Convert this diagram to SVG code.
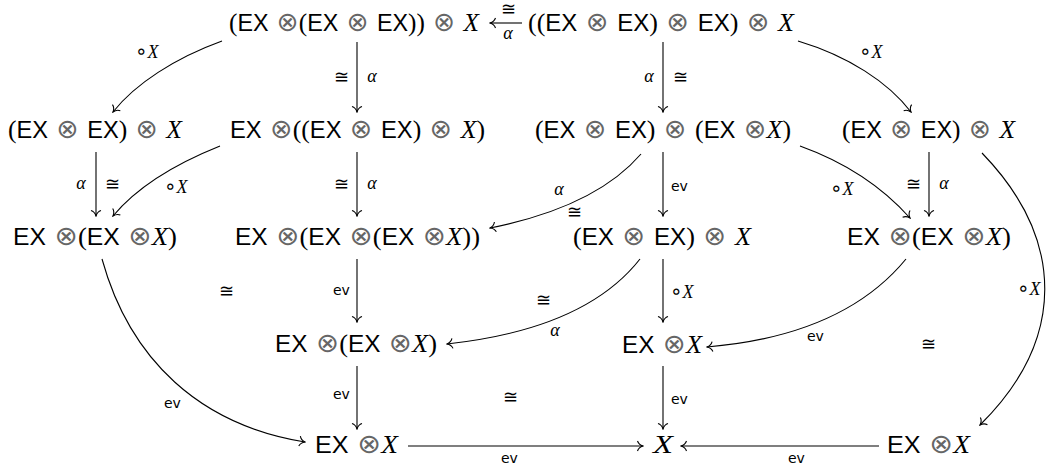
<svg xmlns="http://www.w3.org/2000/svg" width="1047" height="468" viewBox="0 0 1047 468">
<style>
.nd{font-family:"Liberation Serif",serif;font-size:26px;fill:#000}
.sf{font-family:"Liberation Sans",sans-serif;font-size:24px}
.it{font-family:"Liberation Serif",serif;font-style:italic;font-size:26px}
.op{font-family:"DejaVu Sans",sans-serif;font-size:27px;fill:#666}
.ar{fill:none;stroke:#000;stroke-width:1.1;marker-end:url(#ah)}
.ev{font-family:"DejaVu Sans",sans-serif;font-size:14px;fill:#000}
.al{font-family:"Liberation Serif",serif;font-style:italic;font-size:18px;fill:#000}
.iso{font-family:"DejaVu Serif",serif;font-size:18px;fill:#000}
.cx{font-family:"Liberation Serif",serif;font-style:italic;font-size:18px;fill:#000}
.ring{font-family:"DejaVu Sans",sans-serif;font-style:normal;font-size:20px}
</style>
<defs>
<marker id="ah" viewBox="-7 -6 8 12" markerWidth="8" markerHeight="12" refX="0" refY="0" orient="auto" markerUnits="userSpaceOnUse">
<path d="M-5.5,-5 C-4.5,-2 -2,-0.6 0,0 C-2,0.6 -4.5,2 -5.5,5" fill="none" stroke="#000" stroke-width="1.1"/>
</marker>
</defs>

<g id="N1"><text class="nd" x="229" y="31" textLength="250" lengthAdjust="spacingAndGlyphs">(<tspan class="sf">EX</tspan><tspan class="op"> ⊗</tspan>(<tspan class="sf">EX</tspan><tspan class="op"> ⊗ </tspan><tspan class="sf">EX</tspan>))<tspan class="op"> ⊗ </tspan><tspan class="it">X</tspan></text></g>
<g id="N2"><text class="nd" x="528" y="31" textLength="266" lengthAdjust="spacingAndGlyphs">((<tspan class="sf">EX</tspan><tspan class="op"> ⊗ </tspan><tspan class="sf">EX</tspan>)<tspan class="op"> ⊗ </tspan><tspan class="sf">EX</tspan>)<tspan class="op"> ⊗ </tspan><tspan class="it">X</tspan></text></g>
<g id="N3"><text class="nd" x="8" y="138" textLength="174" lengthAdjust="spacingAndGlyphs">(<tspan class="sf">EX</tspan><tspan class="op"> ⊗ </tspan><tspan class="sf">EX</tspan>)<tspan class="op"> ⊗ </tspan><tspan class="it">X</tspan></text></g>
<g id="N4"><text class="nd" x="230" y="138" textLength="255" lengthAdjust="spacingAndGlyphs"><tspan class="sf">EX</tspan><tspan class="op"> ⊗</tspan>((<tspan class="sf">EX</tspan><tspan class="op"> ⊗ </tspan><tspan class="sf">EX</tspan>)<tspan class="op"> ⊗ </tspan><tspan class="it">X</tspan>)</text></g>
<g id="N5"><text class="nd" x="535" y="138" textLength="256" lengthAdjust="spacingAndGlyphs">(<tspan class="sf">EX</tspan><tspan class="op"> ⊗ </tspan><tspan class="sf">EX</tspan>)<tspan class="op"> ⊗ </tspan>(<tspan class="sf">EX</tspan><tspan class="op"> ⊗</tspan><tspan class="it">X</tspan>)</text></g>
<g id="N6"><text class="nd" x="842" y="138" textLength="173" lengthAdjust="spacingAndGlyphs">(<tspan class="sf">EX</tspan><tspan class="op"> ⊗ </tspan><tspan class="sf">EX</tspan>)<tspan class="op"> ⊗ </tspan><tspan class="it">X</tspan></text></g>
<g id="N7"><text class="nd" x="13" y="245" textLength="164" lengthAdjust="spacingAndGlyphs"><tspan class="sf">EX</tspan><tspan class="op"> ⊗</tspan>(<tspan class="sf">EX</tspan><tspan class="op"> ⊗</tspan><tspan class="it">X</tspan>)</text></g>
<g id="N8"><text class="nd" x="235" y="245" textLength="245" lengthAdjust="spacingAndGlyphs"><tspan class="sf">EX</tspan><tspan class="op"> ⊗</tspan>(<tspan class="sf">EX</tspan><tspan class="op"> ⊗</tspan>(<tspan class="sf">EX</tspan><tspan class="op"> ⊗</tspan><tspan class="it">X</tspan>))</text></g>
<g id="N9"><text class="nd" x="573" y="245" textLength="178" lengthAdjust="spacingAndGlyphs">(<tspan class="sf">EX</tspan><tspan class="op"> ⊗ </tspan><tspan class="sf">EX</tspan>)<tspan class="op"> ⊗ </tspan><tspan class="it">X</tspan></text></g>
<g id="N10"><text class="nd" x="847" y="245" textLength="164" lengthAdjust="spacingAndGlyphs"><tspan class="sf">EX</tspan><tspan class="op"> ⊗</tspan>(<tspan class="sf">EX</tspan><tspan class="op"> ⊗</tspan><tspan class="it">X</tspan>)</text></g>
<g id="N11"><text class="nd" x="275" y="352" textLength="162" lengthAdjust="spacingAndGlyphs"><tspan class="sf">EX</tspan><tspan class="op"> ⊗</tspan>(<tspan class="sf">EX</tspan><tspan class="op"> ⊗</tspan><tspan class="it">X</tspan>)</text></g>
<g id="N12"><text class="nd" x="622" y="353" textLength="80" lengthAdjust="spacingAndGlyphs"><tspan class="sf">EX</tspan><tspan class="op"> ⊗</tspan><tspan class="it">X</tspan></text></g>
<g id="N13"><text class="nd" x="315" y="453" textLength="83" lengthAdjust="spacingAndGlyphs"><tspan class="sf">EX</tspan><tspan class="op"> ⊗</tspan><tspan class="it">X</tspan></text></g>
<g id="N14"><text class="nd" x="653" y="453" textLength="20" lengthAdjust="spacingAndGlyphs"><tspan class="it">X</tspan></text></g>
<g id="N15"><text class="nd" x="887" y="453" textLength="83" lengthAdjust="spacingAndGlyphs"><tspan class="sf">EX</tspan><tspan class="op"> ⊗</tspan><tspan class="it">X</tspan></text></g>

<g id="connectors">
<path class="ar" d="M522,23 L490,23"/>
<text class="iso" x="508" y="15" text-anchor="middle" font-size="16">≅</text>
<text class="al" x="508" y="39" text-anchor="middle">α</text>

<path class="ar" d="M222,41 C175,58 135,84 113,112"/>
<text class="cx" x="135" y="58"><tspan class="ring">∘</tspan>X</text>

<path class="ar" d="M357,42 L357,112"/>
<text class="iso" x="341" y="83" text-anchor="middle">≅</text>
<text class="al" x="372" y="82" text-anchor="middle">α</text>

<path class="ar" d="M663,42 L663,112"/>
<text class="al" x="649" y="82" text-anchor="middle">α</text>
<text class="iso" x="680" y="83" text-anchor="middle">≅</text>

<path class="ar" d="M798,41 C848,56 888,82 911,112"/>
<text class="cx" x="859" y="58"><tspan class="ring">∘</tspan>X</text>

<path class="ar" d="M96,152 L96,216"/>
<text class="al" x="81" y="189" text-anchor="middle">α</text>
<text class="iso" x="112" y="190" text-anchor="middle">≅</text>

<path class="ar" d="M220,146 C175,164 138,186 113,216"/>
<text class="cx" x="164" y="193"><tspan class="ring">∘</tspan>X</text>

<path class="ar" d="M357,152 L357,216"/>
<text class="iso" x="341" y="190" text-anchor="middle">≅</text>
<text class="al" x="372" y="189" text-anchor="middle">α</text>

<path class="ar" d="M641,154 C610,190 560,214 490,228"/>
<text class="al" x="559" y="195" text-anchor="middle">α</text>
<text class="iso" x="574" y="218" text-anchor="middle">≅</text>

<path class="ar" d="M663,152 L663,216"/>
<text class="ev" x="671" y="191">ev</text>

<path class="ar" d="M800,146 C850,164 885,190 910,218"/>
<text class="cx" x="830" y="195"><tspan class="ring">∘</tspan>X</text>

<path class="ar" d="M929,152 L929,216"/>
<text class="iso" x="913" y="190" text-anchor="middle">≅</text>
<text class="al" x="944" y="189" text-anchor="middle">α</text>

<path class="ar" d="M982,153 C1066,240 1066,340 980,425"/>
<text class="cx" x="1017" y="295"><tspan class="ring">∘</tspan>X</text>

<path class="ar" d="M102,259 C130,360 200,425 305,442"/>
<text class="ev" x="164" y="408">ev</text>

<path class="ar" d="M357,259 L357,322"/>
<text class="ev" x="333" y="295">ev</text>

<path class="ar" d="M640,259 C600,310 530,335 447,344"/>
<text class="iso" x="543" y="306" text-anchor="middle">≅</text>
<text class="al" x="555" y="336" text-anchor="middle">α</text>

<path class="ar" d="M663,259 L663,322"/>
<text class="cx" x="670" y="298"><tspan class="ring">∘</tspan>X</text>

<path class="ar" d="M906,259 C860,315 790,340 707,347"/>
<text class="ev" x="807" y="341">ev</text>

<path class="ar" d="M357,366 L357,429"/>
<text class="ev" x="333" y="399">ev</text>

<path class="ar" d="M663,366 L663,429"/>
<text class="ev" x="671" y="404">ev</text>

<path class="ar" d="M408,446 L643,446"/>
<text class="ev" x="501" y="463">ev</text>

<path class="ar" d="M879,446 L681,446"/>
<text class="ev" x="788" y="463">ev</text>
</g>

<g id="isos">
<text class="iso" x="226" y="297" text-anchor="middle">≅</text>
<text class="iso" x="928" y="350" text-anchor="middle">≅</text>
<text class="iso" x="510" y="403" text-anchor="middle">≅</text>
</g>
</svg>
